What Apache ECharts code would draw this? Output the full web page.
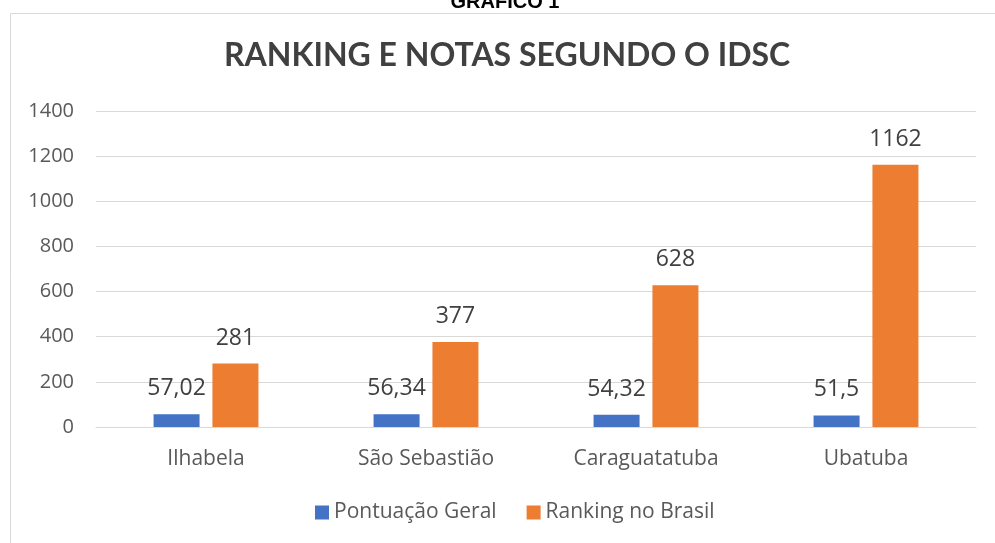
<!DOCTYPE html>
<html>
<head>
<meta charset="utf-8">
<script src="https://cdn.jsdelivr.net/npm/echarts@6/dist/echarts.min.js"></script>
<style>
  html, body { margin: 0; padding: 0; background: #fff; }
  #main { width: 995px; height: 543px; }
</style>
</head>
<body>
<div id="main"></div>
<script>
var cidades = ['Ilhabela', 'São Sebastião', 'Caraguatatuba', 'Ubatuba'];
var pontuacao = [57.02, 56.34, 54.32, 51.5];
var ranking = [281, 377, 628, 1162];
var yTicks = [0, 200, 400, 600, 800, 1000, 1200, 1400];

var fonteTitulo = 'Lato, "Open Sans", sans-serif';
var fonte = '"Open Sans", Lato, sans-serif';
var chart = echarts.init(document.getElementById('main'));

function rotulo (p) {
  return String(p.value).replace('.', ',');
}

var option = {
  animation: false,
  title: {
    text: 'RANKING E NOTAS SEGUNDO O IDSC',
    left: 219,
    top: 35,
    textStyle: { fontFamily: fonteTitulo, fontSize: 32, fontWeight: 'bold', color: '#404040' }
  },
  graphic: [
    {
      type: 'rect',
      shape: { x: 10.5, y: 13.5, width: 1000, height: 600 },
      style: { fill: 'none', stroke: '#d9d9d9', lineWidth: 1 }
    },
    {
      type: 'text',
      x: 505,
      y: -8,
      style: { text: 'GRAFICO 1', align: 'center', font: 'bold 20px "Liberation Sans", Arial, sans-serif', fill: '#000' }
    }
  ],
  color: ['#4472C4', '#ED7D31'],
  legend: {
    data: ['Pontuação Geral', 'Ranking no Brasil'],
    bottom: 15,
    left: 310,
    icon: 'rect',
    itemWidth: 14,
    itemHeight: 14,
    itemGap: 30,
    textStyle: { fontFamily: fonte, fontSize: 21, color: '#595959' }
  },
  grid: {
    left: 96,
    right: 19,
    top: 111,
    bottom: 116
  },
  xAxis: {
    type: 'category',
    data: cidades,
    axisTick: { show: false },
    axisLine: { lineStyle: { color: '#d9d9d9', width: 1 } },
    axisLabel: { fontFamily: fonte, fontSize: 21, color: '#595959', margin: 22 }
  },
  yAxis: {
    type: 'value',
    min: yTicks[0],
    max: yTicks[yTicks.length - 1],
    interval: 200,
    axisLabel: {
      fontFamily: fonte, fontSize: 20, color: '#595959', margin: 22,
      formatter: function (v) { return String(v); }
    },
    splitLine: { lineStyle: { color: '#d9d9d9', width: 1 } }
  },
  series: [
    {
      name: 'Pontuação Geral',
      type: 'bar',
      data: pontuacao,
      barWidth: 46,
      barGap: '28%',
      label: { show: true, position: 'top', distance: 14, formatter: rotulo, fontFamily: fonte, fontSize: 23, color: '#404040' }
    },
    {
      name: 'Ranking no Brasil',
      type: 'bar',
      data: ranking,
      barWidth: 46,
      label: { show: true, position: 'top', distance: 14, formatter: rotulo, fontFamily: fonte, fontSize: 23, color: '#404040' }
    }
  ]
};

chart.setOption(option);
</script>
</body>
</html>
